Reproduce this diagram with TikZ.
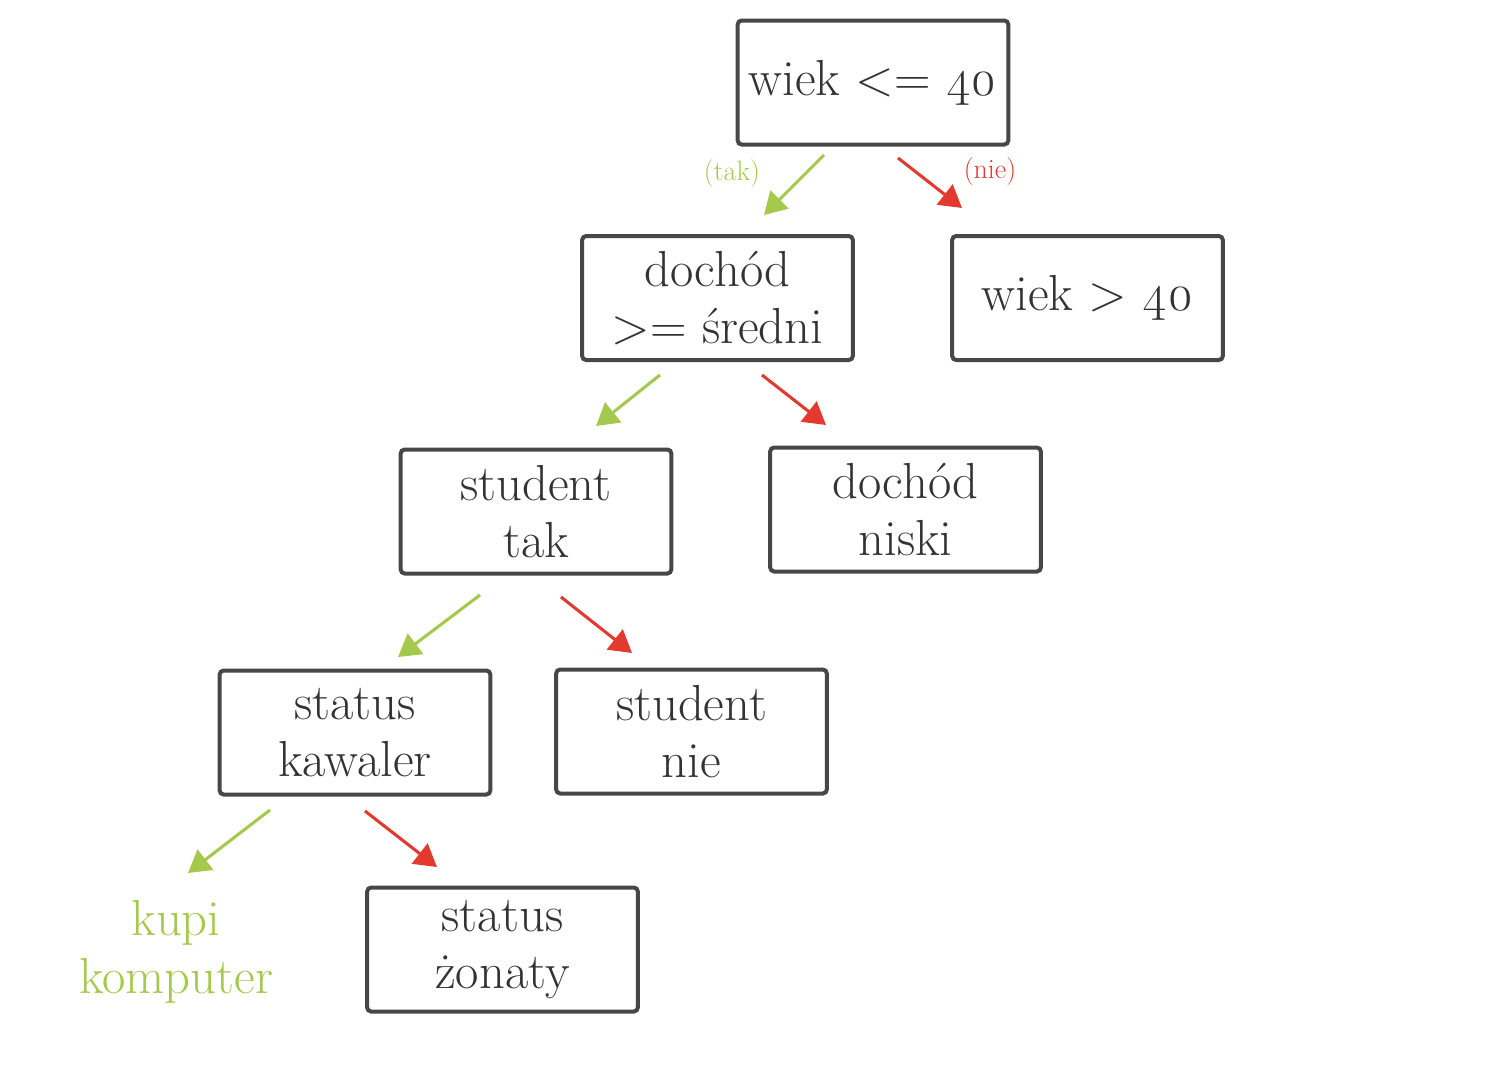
\documentclass[tikz,border=0pt]{standalone}
\usepackage{fontspec}
\setmainfont{Latin Modern Roman}
\usetikzlibrary{arrows.meta}
\definecolor{tgreen}{HTML}{A5C94C}
\definecolor{tred}{HTML}{E23A2F}
\definecolor{tdark}{HTML}{333333}
\tikzset{
  box/.style={draw=tdark!90!white, line width=3pt, rounded corners=3pt, minimum width=203pt, minimum height=93pt,
    align=center, text=tdark, font=\fontsize{38}{43}\selectfont, inner sep=0pt},
  yesarrow/.style={draw=tgreen, line width=2.3pt, -{Triangle[length=16.5pt,width=19pt]}},
  noarrow/.style={draw=tred, line width=2.3pt, -{Triangle[length=16.5pt,width=19pt]}},
  smalllbl/.style={font=\fontsize{21}{24}\selectfont, inner sep=0pt}
}
\begin{document}
\begin{tikzpicture}[x=0.75pt,y=-0.75pt]
\useasboundingbox (0,0) rectangle (1493,1075);
\node[box] (root) at (873,82.5) {wiek <= \oldstylenums{40}};
\node[box] (d1) at (717.5,298) {dochód\\>= średni};
\node[box] (w40) at (1087.5,298) {wiek > \oldstylenums{40}};
\node[box] (st) at (536,511.5) {student\\tak};
\node[box] (dn) at (905.5,509.5) {dochód\\niski};
\node[box] (sk) at (355,732.5) {status\\kawaler};
\node[box] (sn) at (691.5,731.5) {student\\nie};
\node[box] (sz) at (502.5,949.5) {status\\żonaty};
\node[align=center, text=tgreen, font=\fontsize{38}{43}\selectfont, inner sep=0pt] (kupi) at (176,952) {kupi\\komputer};

\node[smalllbl, text=tgreen] (ltak) at (732,174) {(tak)};
\node[smalllbl, text=tred] (lnie) at (990,172) {(nie)};

\coordinate (a1s) at (824,155); \coordinate (a1e) at (764,215);
\coordinate (b1s) at (898,158); \coordinate (b1e) at (962,208);
\coordinate (a2s) at (660,375); \coordinate (a2e) at (596,426);
\coordinate (b2s) at (762,375); \coordinate (b2e) at (826,425);
\coordinate (a3s) at (480,595); \coordinate (a3e) at (398,657);
\coordinate (b3s) at (561,597); \coordinate (b3e) at (632,653);
\coordinate (a4s) at (270,810); \coordinate (a4e) at (188,873);
\coordinate (b4s) at (365,811); \coordinate (b4e) at (437,867);

\draw[yesarrow] (a1s) -- (a1e);
\draw[noarrow] (b1s) -- (b1e);
\draw[yesarrow] (a2s) -- (a2e);
\draw[noarrow] (b2s) -- (b2e);
\draw[yesarrow] (a3s) -- (a3e);
\draw[noarrow] (b3s) -- (b3e);
\draw[yesarrow] (a4s) -- (a4e);
\draw[noarrow] (b4s) -- (b4e);
\end{tikzpicture}
\end{document}
